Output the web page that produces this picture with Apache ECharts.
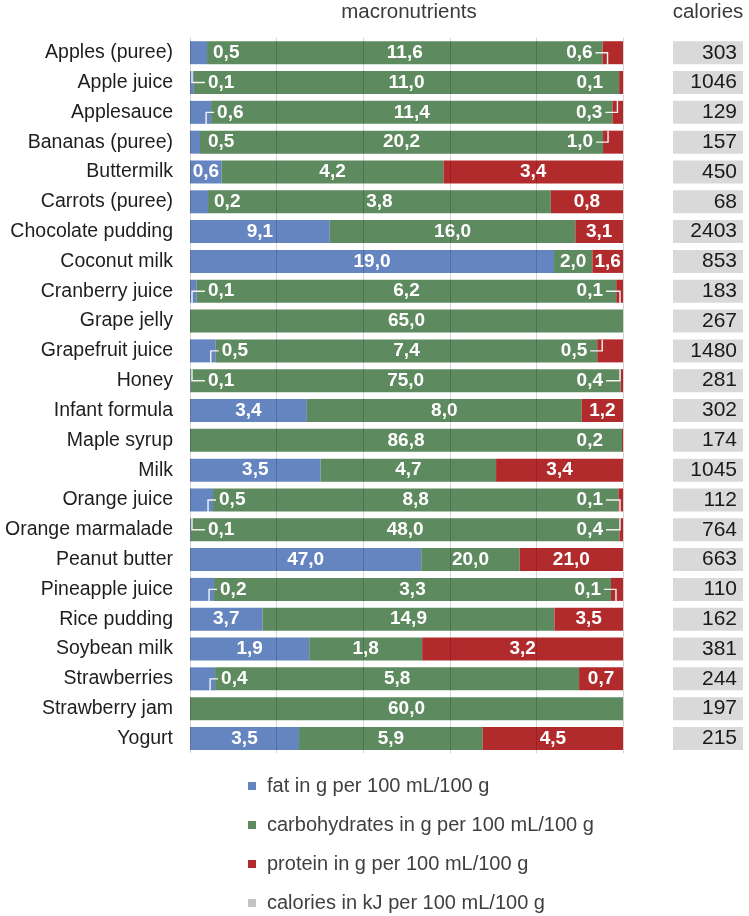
<!DOCTYPE html>
<html>
<head>
<meta charset="utf-8">
<script src="https://cdn.jsdelivr.net/npm/echarts@6/dist/echarts.min.js"></script>
<style>
html,body{margin:0;padding:0;background:#fff;}
#chart{width:749px;height:916px;}
</style>
</head>
<body>
<div id="chart"></div>
<script>
const categories = ['Apples (puree)','Apple juice','Applesauce','Bananas (puree)','Buttermilk','Carrots (puree)','Chocolate pudding','Coconut milk','Cranberry juice','Grape jelly','Grapefruit juice','Honey','Infant formula','Maple syrup','Milk','Orange juice','Orange marmalade','Peanut butter','Pineapple juice','Rice pudding','Soybean milk','Strawberries','Strawberry jam','Yogurt'];
const fat      = [0.5,0.1,0.6,0.5,0.6,0.2,9.1,19.0,0.1,0,0.5,0.1,3.4,0,3.5,0.5,0.1,47.0,0.2,3.7,1.9,0.4,0,3.5];
const carbs    = [11.6,11.0,11.4,20.2,4.2,3.8,16.0,2.0,6.2,65.0,7.4,75.0,8.0,86.8,4.7,8.8,48.0,20.0,3.3,14.9,1.8,5.8,60.0,5.9];
const protein  = [0.6,0.1,0.3,1.0,3.4,0.8,3.1,1.6,0.1,0,0.5,0.4,1.2,0.2,3.4,0.1,0.4,21.0,0.1,3.5,3.2,0.7,0,4.5];
const calories = [303,1046,129,157,450,68,2403,853,183,267,1480,281,302,174,1045,112,764,663,110,162,381,244,197,215];
const seriesNames = ['fat in g per 100 mL/100 g','carbohydrates in g per 100 mL/100 g','protein in g per 100 mL/100 g','calories in kJ per 100 mL/100 g'];

// leader-line style for moved labels (Excel-like callout hooks)
const fatLeader     = ['', 'top', 'bottom', '', '', '', '', '', 'bottom', '', 'bottom', 'top', '', '', '', 'bottom', 'top', '', 'bottom', '', '', 'bottom', '', ''];
const proteinLeader = ['down', '', 'up', 'up', '', '', '', '', 'down', '', 'up', 'up', '', '', '', 'down', 'up', '', 'down', '', '', '', '', ''];

const FONT = '"Liberation Sans", Arial, sans-serif';
const PLOT_W = 433;
const BAR_H = 23;
const fmt = v => v.toFixed(1).replace('.', ',');
const totals = categories.map((c,i) => fat[i] + carbs[i] + protein[i]);
const pctOf = (arr, i) => arr[i] / totals[i] * 100;
const fatDist = w => Math.max(6, 18 - w);
const protDist = w => Math.max(10, 20 - w);

function buildData(arr, kind) {
  return arr.map((v, i) => {
    const pct = pctOf(arr, i);
    const w = pct / 100 * PLOT_W;
    const lab = { show: v > 0 };
    if (kind === 'carbs' || w >= 28) {
      lab.position = 'inside';
    } else if (kind === 'fat') {
      lab.position = 'right';
      lab.distance = fatDist(w);
    } else {
      lab.position = 'left';
      lab.distance = protDist(w);
    }
    return { value: pct, label: lab };
  });
}

const labelBase = { color: '#fff', fontWeight: 'bold', fontSize: 19, fontFamily: FONT };
const colors = ['#6585c1', '#5d8a5e', '#b12b2c'];
const raw = [fat, carbs, protein];
const kinds = ['fat', 'carbs', 'protein'];

const macroSeries = kinds.map((k, s) => ({
  name: seriesNames[s],
  type: 'bar',
  stack: 'macro',
  barWidth: BAR_H,
  xAxisIndex: 0, yAxisIndex: 0,
  itemStyle: { color: colors[s] },
  label: Object.assign({ formatter: p => fmt(raw[s][p.dataIndex]) }, labelBase),
  data: buildData(raw[s], k)
}));

const leaderStyle = { stroke: '#f4f4f4', lineWidth: 1.4, fill: null };
const leaderSeries = {
  type: 'custom',
  xAxisIndex: 0, yAxisIndex: 0,
  z: 5, silent: true,
  encode: { x: 0, y: 1 },
  data: categories.map((c, i) => [0, i]),
  renderItem: function (params, api) {
    const i = api.value(1);
    const children = [];
    const x0 = api.coord([0, i])[0];
    const yMid = api.coord([0, i])[1];
    const half = BAR_H / 2;
    if (fatLeader[i]) {
      const segEnd = api.coord([pctOf(fat, i), i])[0];
      const w = segEnd - x0;
      const ls = segEnd + fatDist(w) - 3;
      let pts;
      if (fatLeader[i] === 'top') {
        const vx = Math.max(segEnd - 2, x0 + 2);
        pts = [[vx, yMid - half], [vx, yMid], [ls, yMid]];
      } else {
        const vx = Math.max(segEnd - 5, x0 + 2);
        pts = [[ls, yMid], [vx, yMid], [vx, yMid + half + 1]];
      }
      children.push({ type: 'polyline', shape: { points: pts }, style: leaderStyle });
    }
    if (proteinLeader[i]) {
      const segStart = api.coord([100 - pctOf(protein, i), i])[0];
      const xEnd = api.coord([100, i])[0];
      const w = xEnd - segStart;
      const le = segStart - protDist(w) + 3;
      const vx = Math.min(segStart + 5, xEnd - 3);
      const yEnd = proteinLeader[i] === 'up' ? yMid - half : yMid + half + 1;
      children.push({ type: 'polyline', shape: { points: [[le, yMid], [vx, yMid], [vx, yEnd]] }, style: leaderStyle });
    }
    return { type: 'group', children: children };
  }
};

const option = {
  animation: false,
  backgroundColor: '#fff',
  textStyle: { fontFamily: FONT },
  title: [
    { text: 'macronutrients', left: 409, top: 2, padding: 0, textAlign: 'center',
      textStyle: { fontSize: 20.5, fontWeight: 'normal', color: '#3a3a3a', fontFamily: FONT } },
    { text: 'calories', left: 708, top: 2, padding: 0, textAlign: 'center',
      textStyle: { fontSize: 20.5, fontWeight: 'normal', color: '#3a3a3a', fontFamily: FONT } }
  ],
  legend: {
    orient: 'vertical', left: 248, top: 776, padding: 0,
    itemWidth: 8, itemHeight: 8, itemGap: 19, icon: 'rect',
    selectedMode: false,
    textStyle: { fontSize: 20, color: '#404040', fontFamily: FONT, lineHeight: 20, padding: [0,0,0,6] },
    data: [
      { name: seriesNames[0] }, { name: seriesNames[1] }, { name: seriesNames[2] },
      { name: seriesNames[3], itemStyle: { color: '#c4c4c4' } }
    ]
  },
  grid: [
    { left: 190, width: PLOT_W, top: 37.8, bottom: 162.6 },
    { left: 673, width: 70, top: 37.8, bottom: 162.6 }
  ],
  xAxis: [
    { gridIndex: 0, type: 'value', min: 0, max: 100, interval: 20, z: 3,
      axisLabel: { show: false }, axisLine: { show: false }, axisTick: { show: false },
      splitLine: { show: true, lineStyle: { color: 'rgba(0,0,0,0.17)', width: 1 } } },
    { gridIndex: 1, type: 'value', min: 0, max: 'dataMax', show: false }
  ],
  yAxis: [
    { gridIndex: 0, type: 'category', data: categories, inverse: true,
      axisLine: { show: false }, axisTick: { show: false },
      axisLabel: { fontSize: 19.5, color: '#1e1e1e', margin: 17, fontFamily: FONT } },
    { gridIndex: 1, type: 'category', data: categories, inverse: true, show: false }
  ],
  series: macroSeries.concat([leaderSeries, {
    name: seriesNames[3],
    type: 'bar',
    xAxisIndex: 1, yAxisIndex: 1,
    barWidth: BAR_H,
    itemStyle: { color: 'rgba(0,0,0,0)' },
    showBackground: true,
    backgroundStyle: { color: '#d9d9d9' },
    label: { show: true, position: [64, 11.5], align: 'right', verticalAlign: 'middle',
      fontSize: 21, color: '#1a1a1a', fontFamily: FONT },
    data: calories
  }])
};

const chart = echarts.init(document.getElementById('chart'), null, { renderer: 'canvas' });
chart.setOption(option);
</script>
</body>
</html>
